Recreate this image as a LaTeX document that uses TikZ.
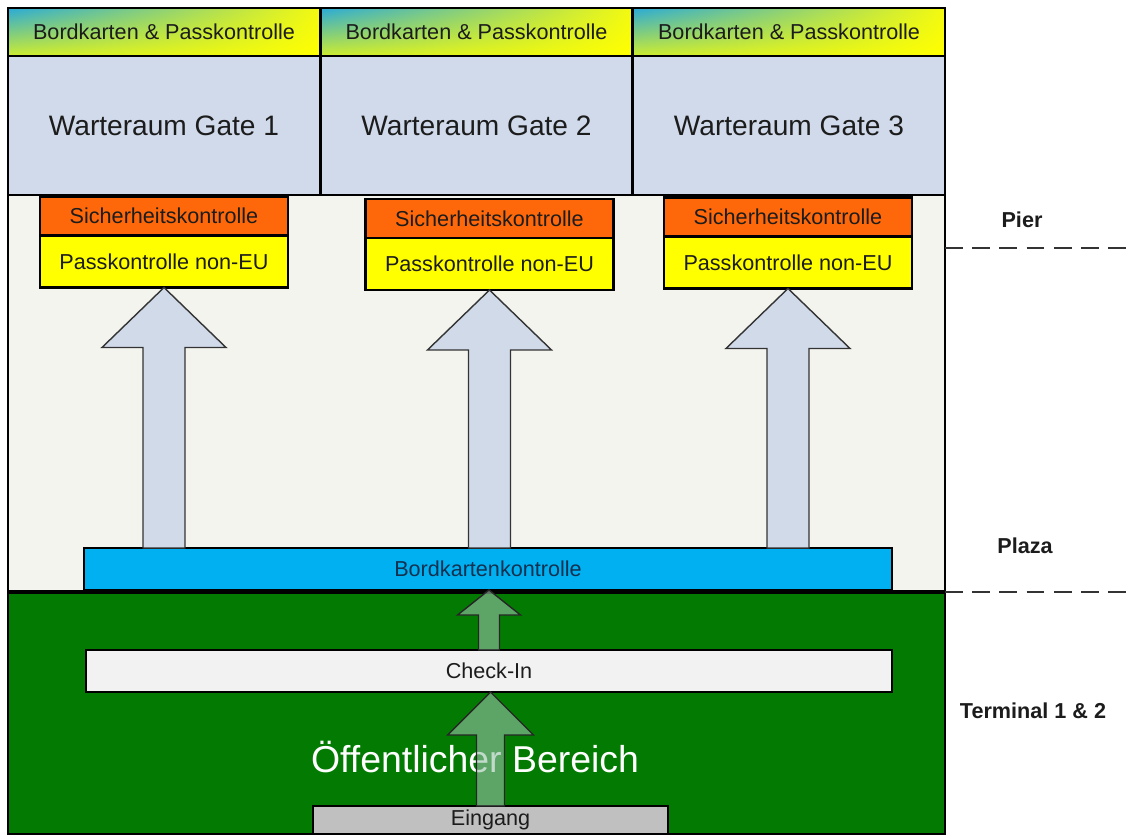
\documentclass[tikz,border=0pt]{standalone}
\usepackage{fontspec}
\setmainfont{Liberation Sans}
\usepackage{xcolor}
\usepackage{tikz}
\usetikzlibrary{calc, positioning, shadings}
\definecolor{gateblue}{HTML}{D0DAEA}
\definecolor{plazabg}{HTML}{F4F4EF}
\definecolor{publicgreen}{HTML}{037B03}
\definecolor{securityorange}{HTML}{FF680A}
\definecolor{passyellow}{HTML}{FFFF00}
\definecolor{barblue}{HTML}{00B0F0}
\definecolor{checkgray}{HTML}{F2F2F2}
\definecolor{entrygray}{HTML}{C0C0C0}
\definecolor{hdrcyan}{HTML}{2AAAD8}
\definecolor{hdrgreen}{HTML}{CDEC30}
\definecolor{hdrlight}{HTML}{F4FA10}
\definecolor{flowblue}{HTML}{D0DAE8}
\definecolor{flowgreen}{HTML}{98C2A8}
\definecolor{textdark}{HTML}{1C1C1C}
\definecolor{navytext}{HTML}{12304F}

\tikzset{
  box/.style={draw=black, line width=1.4pt, inner sep=0pt, outer sep=0pt, text=textdark,
    font=\fontsize{12.3}{14}\selectfont},
  hdrbox/.style={box, minimum width=6.25cm, minimum height=0.96cm, shade,
    upper left=hdrcyan, upper right=hdrlight, lower left=hdrgreen, lower right=passyellow},
  gatebox/.style={box, fill=gateblue, minimum width=6.25cm, minimum height=2.78cm,
    font=\fontsize{16}{18}\selectfont},
  secbox/.style={box, fill=securityorange, minimum width=4.97cm, minimum height=0.78cm},
  passbox/.style={box, fill=passyellow, minimum width=4.97cm, minimum height=1.04cm},
  flowup/.style={draw=black!80, line width=0.8pt, fill=flowblue},
  flowgreenup/.style={draw=black!85, line width=0.8pt, fill=flowgreen, fill opacity=0.6},
  sidelabel/.style={text=textdark, font=\fontsize{12.3}{14}\selectfont\bfseries},
  sepline/.style={draw=black!80, line width=1pt, dash pattern=on 10pt off 5.5pt}
}

% block arrow: style, from, to, shaft half width, head half width, head length
\newcommand{\blockarrow}[6]{%
  \path[#1] let \p1=(#2), \p2=(#3) in
    (\x1-#4,\y1) -- (\x1-#4,\y2-#6) -- (\x1-#5,\y2-#6) -- (\x2,\y2)
    -- (\x1+#5,\y2-#6) -- (\x1+#4,\y2-#6) -- (\x1+#4,\y1) -- cycle;}

\begin{document}
\begin{tikzpicture}[x=0.02cm, y=-0.02cm]
  \useasboundingbox (0,0) rectangle (1127,836);

  % regions
  \fill[plazabg] (8,195) rectangle (945,592);
  \fill[publicgreen] (8,592) rectangle (945,834);
  \draw[line width=1.4pt] (8,8) rectangle (945,834);
  \draw[line width=2pt] (8,592) -- (945,592);

  % gates
  \node[hdrbox] (hdr1) at (164,32) {Bordkarten \& Passkontrolle};
  \node[hdrbox] (hdr2) at (476.5,32) {Bordkarten \& Passkontrolle};
  \node[hdrbox] (hdr3) at (789,32) {Bordkarten \& Passkontrolle};
  \node[gatebox, below=0pt of hdr1] (gate1) {Warteraum Gate 1};
  \node[gatebox, below=0pt of hdr2] (gate2) {Warteraum Gate 2};
  \node[gatebox, below=0pt of hdr3] (gate3) {Warteraum Gate 3};

  % controls
  \node[secbox] (sec1) at (164,216) {Sicherheitskontrolle};
  \node[secbox] (sec2) at (489.5,218.5) {Sicherheitskontrolle};
  \node[secbox] (sec3) at (788,217) {Sicherheitskontrolle};
  \node[passbox, below=0pt of sec1] (pass1) {Passkontrolle non-EU};
  \node[passbox, below=0pt of sec2] (pass2) {Passkontrolle non-EU};
  \node[passbox, below=0pt of sec3] (pass3) {Passkontrolle non-EU};

  \node[box, fill=barblue, text=navytext, minimum width=16.16cm, minimum height=0.84cm] (board) at (488,569) {Bordkartenkontrolle};
  \node[box, fill=checkgray, minimum width=16.12cm, minimum height=0.84cm] (checkin) at (489,671) {Check-In};
  \node[box, fill=entrygray, minimum width=7.1cm, minimum height=0.56cm] (entry) at (490.5,820) {Eingang};

  \node[text=white, font=\fontsize{21.3}{24}\selectfont] (public) at (475,757) {Öffentlicher Bereich};

  % flows
  \blockarrow{flowup}{pass1.south |- board.north}{pass1.south}{0.42cm}{1.24cm}{1.2cm}
  \blockarrow{flowup}{pass2.south |- board.north}{pass2.south}{0.42cm}{1.24cm}{1.2cm}
  \blockarrow{flowup}{pass3.south |- board.north}{pass3.south}{0.42cm}{1.24cm}{1.2cm}
  \blockarrow{flowgreenup}{checkin.north}{checkin.north |- board.south}{0.21cm}{0.63cm}{0.5cm}
  \blockarrow{flowgreenup}{entry.north}{entry.north |- checkin.south}{0.28cm}{0.86cm}{0.86cm}

  % levels
  \node[sidelabel] (pier) at (1022,220) {Pier};
  \node[sidelabel] (plaza) at (1025,546) {Plaza};
  \node[sidelabel] (terminal) at (1033,711) {Terminal 1 \& 2};
  \coordinate (pierL) at (945,248);
  \coordinate (pierR) at (1127,248);
  \coordinate (plazaL) at (945,592);
  \coordinate (plazaR) at (1127,592);
  \draw[sepline] (pierL) -- (pierR);
  \draw[sepline] (plazaL) -- (plazaR);
\end{tikzpicture}
\end{document}
